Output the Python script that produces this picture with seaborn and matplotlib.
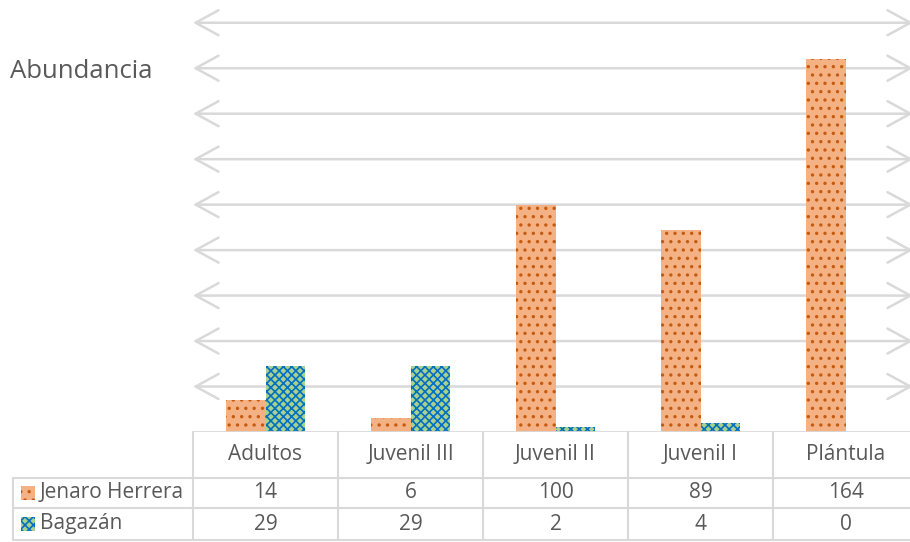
import numpy as np
import pandas as pd
import seaborn as sns
import matplotlib.pyplot as plt
from matplotlib.patches import Rectangle
from matplotlib.lines import Line2D

# datos
etapas = ["Adultos", "Juvenil III", "Juvenil II", "Juvenil I", "Plántula"]
jenaro = [14, 6, 100, 89, 164]
bagazan = [29, 29, 2, 4, 0]
series = ["Jenaro Herrera", "Bagazán"]

naranja = "#F4B183"
verde = "#A9D18E"
gris = "#D9D9D9"
texto = "#595959"

df = pd.DataFrame({
    "Etapa": etapas * 2,
    "Abundancia": jenaro + bagazan,
    "Sitio": [series[0]] * len(etapas) + [series[1]] * len(etapas),
})

sns.set_style("white")
plt.rcParams["font.family"] = ["Open Sans", "DejaVu Sans"]
plt.rcParams["hatch.linewidth"] = 1.2

W, H = 910, 542
fig = plt.figure(figsize=(W / 100, H / 100), dpi=100)

# ejes en pixeles de la figura
x0, x1 = 193, 918
y_top, y_bot = 0, 432
ax = fig.add_axes([x0 / W, 1 - y_bot / H, (x1 - x0) / W, (y_bot - y_top) / H])

sns.barplot(data=df, x="Etapa", y="Abundancia", hue="Sitio",
            palette=[naranja, verde], width=0.545, gap=0,
            legend=False, ax=ax, saturation=1)

hatches = ["..", "xxxx"]
hcols = ["#C55A11", "#0070C0"]
for cont, h, hc in zip(ax.containers, hatches, hcols):
    for bar in cont:
        bar.set_hatch(h)
        bar.set_edgecolor(hc)
        bar.set_linewidth(0)

ax.set_ylim(0, 190)
ax.set_xlim(-0.5, len(etapas) - 0.5)
ax.set_xlabel("")
ax.set_ylabel("")
ax.set_xticks([])
ax.set_yticks([])
for s in ax.spines.values():
    s.set_visible(False)

# lineas de cuadricula con flechas
tip_r = (913 - x0) / (x1 - x0)
for v in range(20, 181, 20):
    ax.annotate("", xy=(0.0, v), xytext=(tip_r, v),
                xycoords=("axes fraction", "data"),
                textcoords=("axes fraction", "data"),
                arrowprops=dict(arrowstyle="<->, head_length=0.55, head_width=0.3",
                                color=gris, lw=1.8, mutation_scale=30,
                                shrinkA=0, shrinkB=0),
                zorder=0)
ax.axhline(0, color=gris, lw=2, zorder=3)

fig.text(10 / W, 1 - 72 / H, "Abundancia", fontsize=18.5, color=texto,
         va="center", ha="left")

# tabla de datos
def fx(p):
    return p / W

def fy(p):
    return 1 - p / H

col_w = (x1 - x0) / len(etapas)
r_head, r1, r2, r_end = 432, 478, 508, 540
lw_t = 1.5
for i in range(len(etapas) + 1):
    xp = x0 + i * col_w
    fig.add_artist(Line2D([fx(xp), fx(xp)], [fy(r_head), fy(r_end)], color=gris, lw=lw_t))
fig.add_artist(Line2D([fx(13), fx(13)], [fy(r1), fy(r_end)], color=gris, lw=lw_t))
for yp in [r1, r2, r_end]:
    fig.add_artist(Line2D([fx(13), fx(x1)], [fy(yp), fy(yp)], color=gris, lw=lw_t))

fs = 15
for i, et in enumerate(etapas):
    cx = x0 + (i + 0.5) * col_w
    fig.text(fx(cx), fy((r_head + r1) / 2), et, ha="center", va="center",
             fontsize=fs, color=texto)
    fig.text(fx(cx), fy((r1 + r2) / 2), str(jenaro[i]), ha="center", va="center",
             fontsize=fs, color=texto)
    fig.text(fx(cx), fy((r2 + r_end) / 2), str(bagazan[i]), ha="center", va="center",
             fontsize=fs, color=texto)

for k, (nom, col, h, hc) in enumerate(zip(series, [naranja, verde], hatches, hcols)):
    yc = (r1 + r2) / 2 if k == 0 else (r2 + r_end) / 2
    fig.add_artist(Rectangle((fx(21), fy(yc + 7)), 14 / W, 14 / H, facecolor=col,
                             edgecolor=hc, hatch=h, lw=0, transform=fig.transFigure))
    fig.text(fx(40), fy(yc), nom, ha="left", va="center", fontsize=fs, color=texto)

fig.savefig("out.png", dpi=100)
